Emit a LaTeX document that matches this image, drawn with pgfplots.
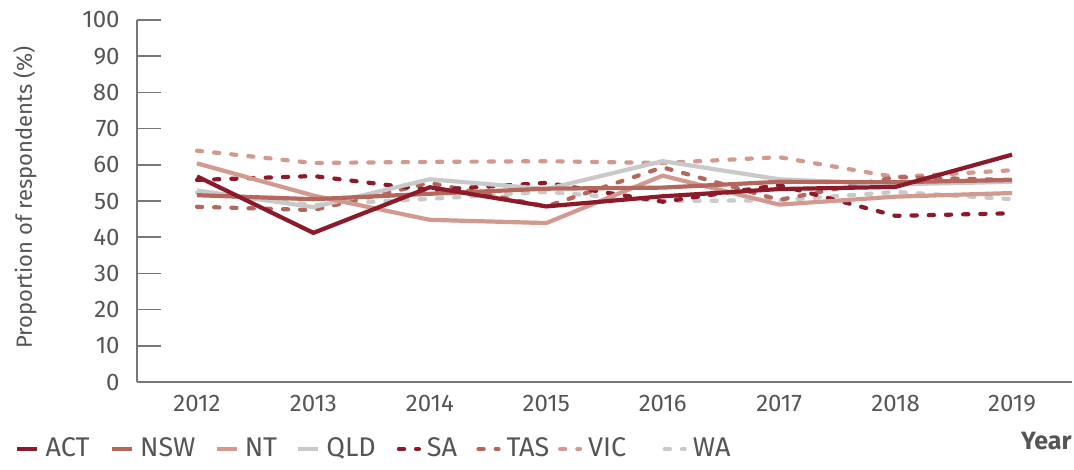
\documentclass[border=0pt]{standalone}
\usepackage{fontspec}
\setmainfont{Fira Sans}
\usepackage{pgfplots}
\pgfplotsset{compat=1.18}
\definecolor{cACT}{HTML}{8B1A2B}
\definecolor{cNSW}{HTML}{B3675D}
\definecolor{cNT}{HTML}{D29A8F}
\definecolor{cQLD}{HTML}{C9C9C9}
\definecolor{txt}{HTML}{555555}
\definecolor{axc}{HTML}{777777}
\newcommand{\legtxt}[2]{\makebox[#1][l]{\hspace{3pt}#2}}
\begin{document}
\begin{tikzpicture}
\path[use as bounding box] (-68.5pt,-44pt) rectangle (468.5pt,191pt);
\begin{axis}[
  at={(0,0)}, anchor=south west,
  scale only axis, width=467.5pt, height=181pt,
  xmin=-0.515, xmax=7.515, ymin=0, ymax=100,
  axis lines*=left,
  axis line style={axc, line width=0.75pt},
  xtick={0,...,7},
  xticklabels={2012,2013,2014,2015,2016,2017,2018,2019},
  ytick={0,10,...,100},
  major tick length=12pt,
  x tick style={draw=none},
  y tick style={axc, line width=0.75pt},
  tick align=inside,
  tick pos=left,
  font=\fontsize{11}{13}\selectfont\color{txt},
  tick label style={font=\fontsize{12}{14}\selectfont\color{txt}},
  /pgf/number format/assume math mode=true,
  xticklabel style={inner sep=0pt, anchor=north, yshift=-6.5pt},
  yticklabel style={inner sep=0pt, anchor=east, xshift=-8.5pt},
  ylabel={Proportion of respondents (\%)},
  ylabel style={at={(axis description cs:-0.1198,0.51)}, anchor=center, inner sep=0pt},
  xlabel={\bfseries Year},
  xlabel style={at={(axis description cs:1,0)}, anchor=north east, inner sep=0pt, yshift=-25pt, font=\fontsize{12.5}{14}\selectfont\color{txt}},
  line join=round,
  every axis plot/.append style={line width=2.1pt},
  legend columns=8,
  reverse legend,
  legend style={draw=none, fill=none, at={(axis description cs:-0.1305,-0.185)}, anchor=west,
    font=\fontsize{13.5}{15}\selectfont\color{txt}, nodes={inner sep=0pt},
    /tikz/every even column/.style={column sep=0pt}, /tikz/every odd column/.style={column sep=0pt},
    column sep=0pt, inner sep=0pt},
  legend cell align=left,
  legend image code/.code={\draw[#1, line width=2.1pt] (0pt,0pt) -- (10pt,0pt);},
  dotted style/.style={line cap=round, dash pattern=on 2.6pt off 6pt},
]
\addplot[cQLD, dotted style] coordinates {(0,52.3)(1,48.9)(2,50.6)(3,52.5)(4,50.0)(5,50.2)(6,52.5)(7,50.5)};
\addlegendentry{\legtxt{25pt}{WA}}
\addplot[cNT, dotted style] coordinates {(0,63.9)(1,60.5)(2,60.8)(3,61.0)(4,60.5)(5,62.1)(6,56.6)(7,58.5)};
\addlegendentry{\legtxt{40.2pt}{VIC}}
\addplot[cNSW, dotted style] coordinates {(0,48.4)(1,47.5)(2,55.0)(3,48.5)(4,59.3)(5,50.3)(6,56.6)(7,55.8)};
\addlegendentry{\legtxt{28.7pt}{TAS}}
\addplot[cACT, dotted style] coordinates {(0,55.8)(1,56.9)(2,53.0)(3,55.0)(4,49.8)(5,54.4)(6,45.9)(7,46.6)};
\addlegendentry{\legtxt{27.7pt}{SA}}
\addplot[cQLD] coordinates {(0,52.9)(1,48.3)(2,56.0)(3,53.3)(4,61.0)(5,56.0)(6,54.6)(7,55.3)};
\addlegendentry{\legtxt{38.2pt}{QLD}}
\addplot[cNT] coordinates {(0,60.4)(1,51.5)(2,44.8)(3,43.9)(4,57.0)(5,49.0)(6,51.2)(7,52.2)};
\addlegendentry{\legtxt{28.7pt}{NT}}
\addplot[cNSW] coordinates {(0,51.6)(1,50.5)(2,52.0)(3,53.4)(4,53.7)(5,55.3)(6,55.2)(7,55.8)};
\addlegendentry{\legtxt{40.2pt}{NSW}}
\addplot[cACT] coordinates {(0,56.8)(1,41.2)(2,53.8)(3,48.5)(4,51.3)(5,53.3)(6,53.9)(7,62.8)};
\addlegendentry{\legtxt{35.2pt}{ACT}}
\end{axis}
\end{tikzpicture}
\end{document}
